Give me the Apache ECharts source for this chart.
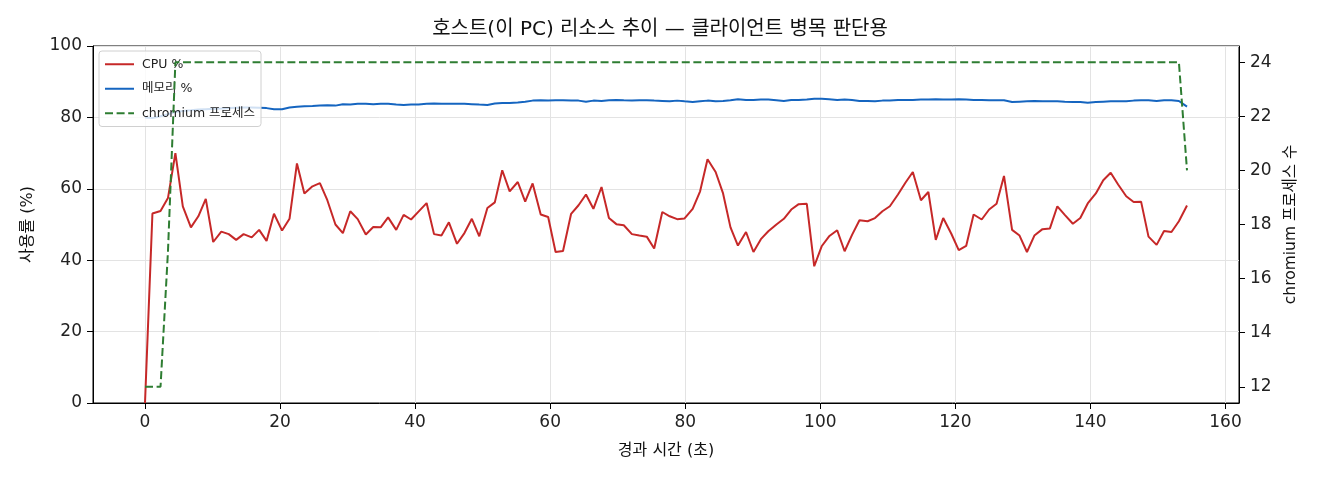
<!DOCTYPE html>
<html>
<head>
<meta charset="utf-8">
<script src="https://cdn.jsdelivr.net/npm/echarts@6/dist/echarts.min.js"></script>
<style>
  html, body { margin: 0; padding: 0; background: #fff; }
  #main { width: 1320px; height: 480px; }
</style>
</head>
<body>
<div id="main"></div>
<script>
// 경과 시간 (초)
const times = [
  0.0, 1.1, 2.3, 3.4, 4.5, 5.6, 6.8, 7.9, 9.0, 10.1,
  11.3, 12.4, 13.5, 14.6, 15.8, 16.9, 18.0, 19.1, 20.3, 21.4,
  22.5, 23.6, 24.8, 25.9, 27.0, 28.2, 29.3, 30.4, 31.5, 32.7,
  33.8, 34.9, 36.0, 37.2, 38.3, 39.4, 40.5, 41.7, 42.8, 43.9,
  45.0, 46.2, 47.3, 48.4, 49.5, 50.7, 51.8, 52.9, 54.0, 55.2,
  56.3, 57.4, 58.6, 59.7, 60.8, 61.9, 63.1, 64.2, 65.3, 66.4,
  67.6, 68.7, 69.8, 70.9, 72.1, 73.2, 74.3, 75.4, 76.6, 77.7,
  78.8, 79.9, 81.1, 82.2, 83.3, 84.5, 85.6, 86.7, 87.8, 89.0,
  90.1, 91.2, 92.3, 93.5, 94.6, 95.7, 96.8, 98.0, 99.1, 100.2,
  101.3, 102.5, 103.6, 104.7, 105.8, 107.0, 108.1, 109.2, 110.3, 111.5,
  112.6, 113.7, 114.9, 116.0, 117.1, 118.2, 119.4, 120.5, 121.6, 122.7,
  123.9, 125.0, 126.1, 127.2, 128.4, 129.5, 130.6, 131.7, 132.9, 134.0,
  135.1, 136.2, 137.4, 138.5, 139.6, 140.8, 141.9, 143.0, 144.1, 145.3,
  146.4, 147.5, 148.6, 149.8, 150.9, 152.0, 153.1, 154.3
];

// CPU %
const cpu = [
  0, 53.1, 53.8, 57.4, 70.0, 55.1, 49.2, 52.3, 57.2, 45.1,
  48.0, 47.3, 45.7, 47.3, 46.4, 48.5, 45.4, 53.0, 48.3, 51.6,
  67.1, 58.7, 60.7, 61.6, 56.8, 50.0, 47.6, 53.7, 51.5, 47.2,
  49.3, 49.2, 52.0, 48.5, 52.7, 51.4, 53.6, 56.0, 47.3, 46.9,
  50.6, 44.6, 47.6, 51.6, 46.7, 54.6, 56.2, 65.2, 59.3, 61.9,
  56.4, 61.5, 52.8, 52.1, 42.3, 42.6, 53.0, 55.4, 58.4, 54.4,
  60.5, 51.8, 50.1, 49.8, 47.3, 46.9, 46.6, 43.3, 53.5, 52.3,
  51.5, 51.7, 54.4, 59.3, 68.3, 64.7, 58.7, 49.2, 44.1, 47.9,
  42.3, 45.9, 48.1, 50.0, 51.6, 54.2, 55.7, 55.8, 38.3, 43.9,
  46.7, 48.4, 42.5, 47.1, 51.2, 50.9, 51.8, 53.7, 55.1, 58.4,
  61.7, 64.7, 56.8, 59.1, 45.7, 51.8, 47.4, 42.8, 44.0, 52.8,
  51.4, 54.2, 55.8, 63.6, 48.5, 46.9, 42.3, 46.9, 48.7, 48.9,
  55.1, 52.7, 50.2, 51.8, 55.9, 58.7, 62.4, 64.5, 61.2, 57.9,
  56.3, 56.4, 46.6, 44.3, 48.2, 47.9, 50.9, 55.3
];

// 메모리 %
const memory = [
  80.0, 79.8, 80.3, 80.9, 81.5, 81.8, 82.0, 82.2, 82.3, 82.4,
  82.5, 82.6, 82.7, 82.8, 82.8, 82.7, 82.6, 82.3, 82.3, 82.8,
  83.0, 83.1, 83.2, 83.3, 83.4, 83.3, 83.7, 83.6, 83.8, 83.8,
  83.7, 83.8, 83.8, 83.6, 83.5, 83.6, 83.6, 83.8, 83.9, 83.8,
  83.8, 83.8, 83.8, 83.7, 83.6, 83.5, 83.9, 84.0, 84.0, 84.2,
  84.4, 84.7, 84.8, 84.7, 84.8, 84.8, 84.7, 84.7, 84.4, 84.7,
  84.6, 84.8, 84.9, 84.8, 84.7, 84.8, 84.8, 84.7, 84.6, 84.5,
  84.7, 84.5, 84.3, 84.5, 84.7, 84.5, 84.6, 84.8, 85.1, 84.9,
  84.9, 85.0, 85.0, 84.8, 84.6, 84.9, 84.9, 85.0, 85.2, 85.2,
  85.1, 84.9, 85.0, 84.9, 84.6, 84.6, 84.5, 84.7, 84.7, 84.9,
  84.9, 84.9, 85.0, 85.0, 85.1, 85.0, 85.0, 85.1, 85.0, 84.9,
  84.9, 84.8, 84.8, 84.8, 84.3, 84.4, 84.5, 84.6, 84.5, 84.5,
  84.5, 84.4, 84.3, 84.3, 84.1, 84.3, 84.4, 84.5, 84.5, 84.5,
  84.7, 84.8, 84.8, 84.6, 84.8, 84.8, 84.6, 83.0
];

// chromium 프로세스 수
const chromium = [
  12, 12, 12, 17, 24, 24, 24, 24, 24, 24,
  24, 24, 24, 24, 24, 24, 24, 24, 24, 24,
  24, 24, 24, 24, 24, 24, 24, 24, 24, 24,
  24, 24, 24, 24, 24, 24, 24, 24, 24, 24,
  24, 24, 24, 24, 24, 24, 24, 24, 24, 24,
  24, 24, 24, 24, 24, 24, 24, 24, 24, 24,
  24, 24, 24, 24, 24, 24, 24, 24, 24, 24,
  24, 24, 24, 24, 24, 24, 24, 24, 24, 24,
  24, 24, 24, 24, 24, 24, 24, 24, 24, 24,
  24, 24, 24, 24, 24, 24, 24, 24, 24, 24,
  24, 24, 24, 24, 24, 24, 24, 24, 24, 24,
  24, 24, 24, 24, 24, 24, 24, 24, 24, 24,
  24, 24, 24, 24, 24, 24, 24, 24, 24, 24,
  24, 24, 24, 24, 24, 24, 24, 20
];

const xTicks = [0, 20, 40, 60, 80, 100, 120, 140, 160];
const rightTicks = [12, 14, 16, 18, 20, 22, 24];

const FONT = '"DejaVu Sans", "Noto Sans CJK KR", sans-serif';
const chart = echarts.init(document.getElementById('main'), null, { renderer: 'canvas' });

const pairs = (vals) => times.map((t, i) => [t, vals[i]]);

chart.setOption({
  animation: false,
  textStyle: { fontFamily: FONT },
  title: {
    text: '호스트(이 PC) 리소스 추이 — 클라이언트 병목 판단용',
    left: 'center',
    top: 15,
    textStyle: { fontFamily: FONT, fontSize: 20, fontWeight: 'normal', color: '#111' }
  },
  grid: {
    left: 93, right: 81, top: 46, bottom: 77,
    show: true, borderColor: '#000', borderWidth: 1, backgroundColor: 'transparent'
  },
  legend: {
    orient: 'vertical',
    left: 99, top: 51,
    z: 5,
    itemWidth: 29, itemHeight: 14, itemGap: 12,
    padding: [7, 6, 7, 5],
    backgroundColor: 'rgba(255,255,255,0.8)',
    borderColor: '#d0d0d0', borderWidth: 1, borderRadius: 3,
    itemStyle: { opacity: 0 },
    textStyle: { fontFamily: FONT, fontSize: 12.5, color: '#222', padding: [0, 0, 0, 3] },
    data: ['CPU %', '메모리 %', 'chromium 프로세스']
  },
  xAxis: {
    type: 'value',
    min: -7.7, max: 162,
    splitNumber: 8,
    name: '경과 시간 (초)',
    nameLocation: 'middle',
    nameGap: 40,
    nameTextStyle: { fontFamily: FONT, fontSize: 16, color: '#111' },
    axisLine: { onZero: false, lineStyle: { color: '#000', width: 1 } },
    axisTick: { show: true, inside: false, length: 6, customValues: xTicks, lineStyle: { color: '#000' } },
    axisLabel: { customValues: xTicks, margin: 11, fontSize: 17, color: '#222', fontFamily: FONT },
    splitLine: { show: true, lineStyle: { color: '#e3e3e3', width: 1 } }
  },
  yAxis: [
    {
      type: 'value',
      min: 0, max: 100, interval: 20,
      name: '사용률 (%)',
      nameLocation: 'middle',
      nameRotate: 90,
      nameGap: 57,
      nameTextStyle: { fontFamily: FONT, fontSize: 16, color: '#111' },
      axisLine: { show: true, onZero: false, lineStyle: { color: '#000', width: 1 } },
      axisTick: { show: true, inside: false, length: 6, lineStyle: { color: '#000' } },
      axisLabel: { margin: 11, fontSize: 17, color: '#222', fontFamily: FONT },
      splitLine: { show: true, lineStyle: { color: '#e3e3e3', width: 1 } }
    },
    {
      type: 'value',
      position: 'right',
      min: 11.4, max: 24.6,
      splitNumber: 6,
      name: 'chromium 프로세스 수',
      nameLocation: 'middle',
      nameRotate: 90,
      nameGap: 44,
      nameTextStyle: { fontFamily: FONT, fontSize: 15.5, color: '#111' },
      axisLine: { show: true, onZero: false, lineStyle: { color: '#000', width: 1 } },
      axisTick: { show: true, inside: false, length: 6, customValues: rightTicks, lineStyle: { color: '#000' } },
      axisLabel: { customValues: rightTicks, margin: 11, fontSize: 17, color: '#222', fontFamily: FONT },
      splitLine: { show: false }
    }
  ],
  series: [
    {
      name: 'CPU %',
      type: 'line',
      yAxisIndex: 0,
      symbol: 'none',
      z: 2,
      lineStyle: { color: '#c62828', width: 2 },
      itemStyle: { color: '#c62828' },
      data: pairs(cpu)
    },
    {
      name: '메모리 %',
      type: 'line',
      yAxisIndex: 0,
      symbol: 'none',
      z: 2,
      lineStyle: { color: '#1565c0', width: 2 },
      itemStyle: { color: '#1565c0' },
      data: pairs(memory)
    },
    {
      name: 'chromium 프로세스',
      type: 'line',
      yAxisIndex: 1,
      symbol: 'none',
      z: 10,
      lineStyle: { color: '#2e7d32', width: 2, type: [8, 3.6] },
      itemStyle: { color: '#2e7d32' },
      data: pairs(chromium)
    }
  ]
});
</script>
</body>
</html>
